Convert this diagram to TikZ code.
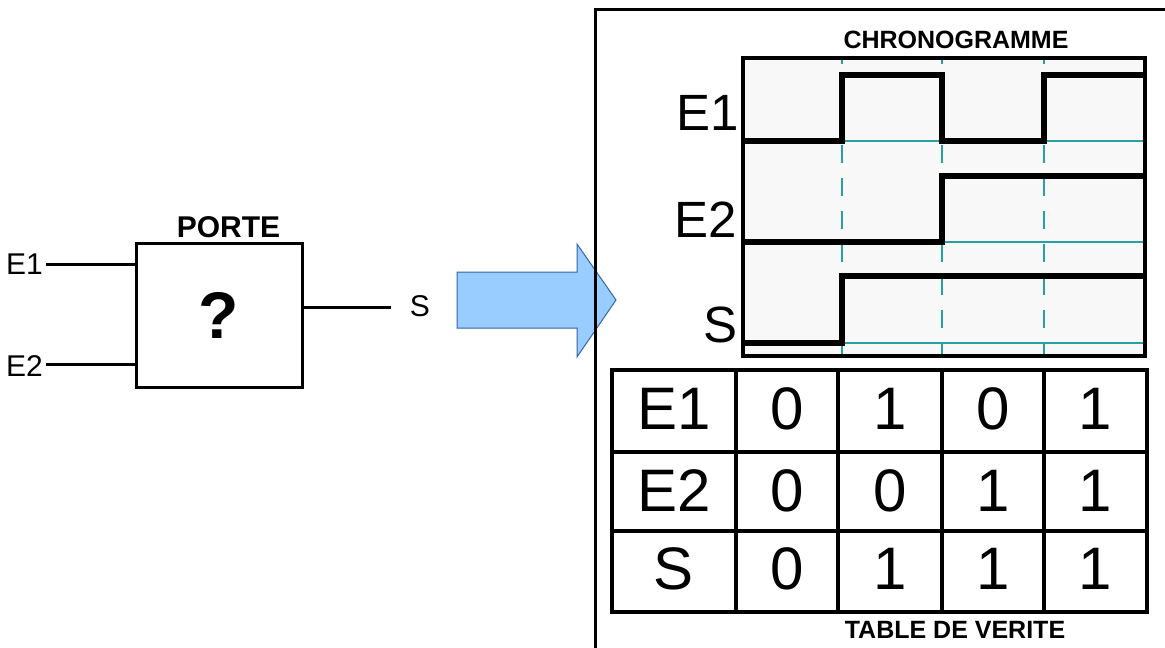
\documentclass[tikz,border=0pt]{standalone}
\usepackage{fontspec}
\setmainfont{Liberation Sans}
\definecolor{tealc}{RGB}{38,160,160}
\definecolor{arrowfill}{RGB}{153,204,255}
\definecolor{arrowline}{RGB}{52,101,164}
\definecolor{chrobg}{RGB}{248,248,248}
\tikzset{
  wire/.style={line width=3pt},
  gatebox/.style={draw, line width=3pt, minimum width=166pt, minimum height=144pt, inner sep=0pt},
  sig/.style={line width=6pt},
  baseline/.style={tealc, line width=1.5pt},
  tickline/.style={tealc, line width=1.5pt, dash pattern=on 18pt off 15pt, dash phase=12pt},
  grid/.style={line width=3.5pt},
  txt/.style={inner sep=0pt, outer sep=0pt},
  small/.style={txt, font=\fontsize{30pt}{32pt}\selectfont},
  mid/.style={txt, font=\fontsize{51pt}{54pt}\selectfont},
  big/.style={txt, font=\fontsize{60pt}{64pt}\selectfont},
  title/.style={txt, font=\bfseries\fontsize{25pt}{27pt}\selectfont},
}
\begin{document}
\begin{tikzpicture}[x=1pt,y=-1pt]
\useasboundingbox (0,0) rectangle (1165,648);
% ---------- gate ----------
\node[gatebox] (gate) at (219,315) {};
\node[txt, font=\bfseries\fontsize{30pt}{32pt}\selectfont, anchor=base] (porte) at (228.5,237) {PORTE};
\node[txt, font=\bfseries\fontsize{66pt}{70pt}\selectfont, anchor=base] (q) at (219,338) {?};
\node[small, anchor=base west] (le1) at (6,274) {E1};
\node[small, anchor=base west] (le2) at (6,376) {E2};
\node[small, anchor=base] (ls) at (420,316) {S};
\coordinate (e1in) at (46,264);
\coordinate (e2in) at (46,364);
\coordinate (sout) at (391,307);
\draw[wire] (e1in) -- (e1in -| gate.west);
\draw[wire] (e2in) -- (e2in -| gate.west);
\draw[wire] (sout -| gate.east) -- (sout);
% ---------- arrow ----------
\draw[arrowline, fill=arrowfill, line width=1pt]
  (457,272) -- (577,272) -- (577,244) -- (616,300) -- (577,357) -- (577,328) -- (457,328) -- cycle;
% ---------- frame ----------
\draw[line width=3pt] (595,648) -- (595,9.5) -- (1165,9.5);
% ---------- chronogramme ----------
\node[title, anchor=base] (chrono) at (956,48) {CHRONOGRAMME};
\fill[chrobg] (743,58) rectangle (1145,356);
\foreach \y in {141,242,343} \draw[baseline] (743,\y) -- (1145,\y);
\foreach \x in {842,942,1044} \draw[tickline] (\x,58) -- (\x,356);
\draw[sig] (743,141) -- (842,141) -- (842,75) -- (942,75) -- (942,141) -- (1044,141) -- (1044,75) -- (1145,75);
\draw[sig] (743,242) -- (942,242) -- (942,176) -- (1145,176);
\draw[sig] (743,343) -- (842,343) -- (842,276) -- (1145,276);
\draw[line width=3.5pt] (743,58) rectangle (1145,356);
\node[mid, anchor=base east] (ce1) at (739,130) {E1};
\node[mid, anchor=base east] (ce2) at (737,237) {E2};
\node[mid, anchor=base east] (cs) at (738,342) {S};
% ---------- table ----------
\draw[grid] (612,370) rectangle (1147,612);
\foreach \x in {736,838,942,1044} \draw[grid] (\x,370) -- (\x,612);
\foreach \y in {452,531} \draw[grid] (612,\y) -- (1147,\y);
\node[big, anchor=base] (t11) at (674,429) {E1};
\node[big, anchor=base] (t12) at (787,429) {0};
\node[big, anchor=base] (t13) at (890,429) {1};
\node[big, anchor=base] (t14) at (993,429) {0};
\node[big, anchor=base] (t15) at (1095.5,429) {1};
\node[big, anchor=base] (t21) at (674,511) {E2};
\node[big, anchor=base] (t22) at (787,511) {0};
\node[big, anchor=base] (t23) at (890,511) {0};
\node[big, anchor=base] (t24) at (993,511) {1};
\node[big, anchor=base] (t25) at (1095.5,511) {1};
\node[big, anchor=base] (t31) at (674,589) {S};
\node[big, anchor=base] (t32) at (787,589) {0};
\node[big, anchor=base] (t33) at (890,589) {1};
\node[big, anchor=base] (t34) at (993,589) {1};
\node[big, anchor=base] (t35) at (1095.5,589) {1};
\node[title, anchor=base] (tdv) at (955,638) {TABLE DE VERITE};
\end{tikzpicture}
\end{document}
